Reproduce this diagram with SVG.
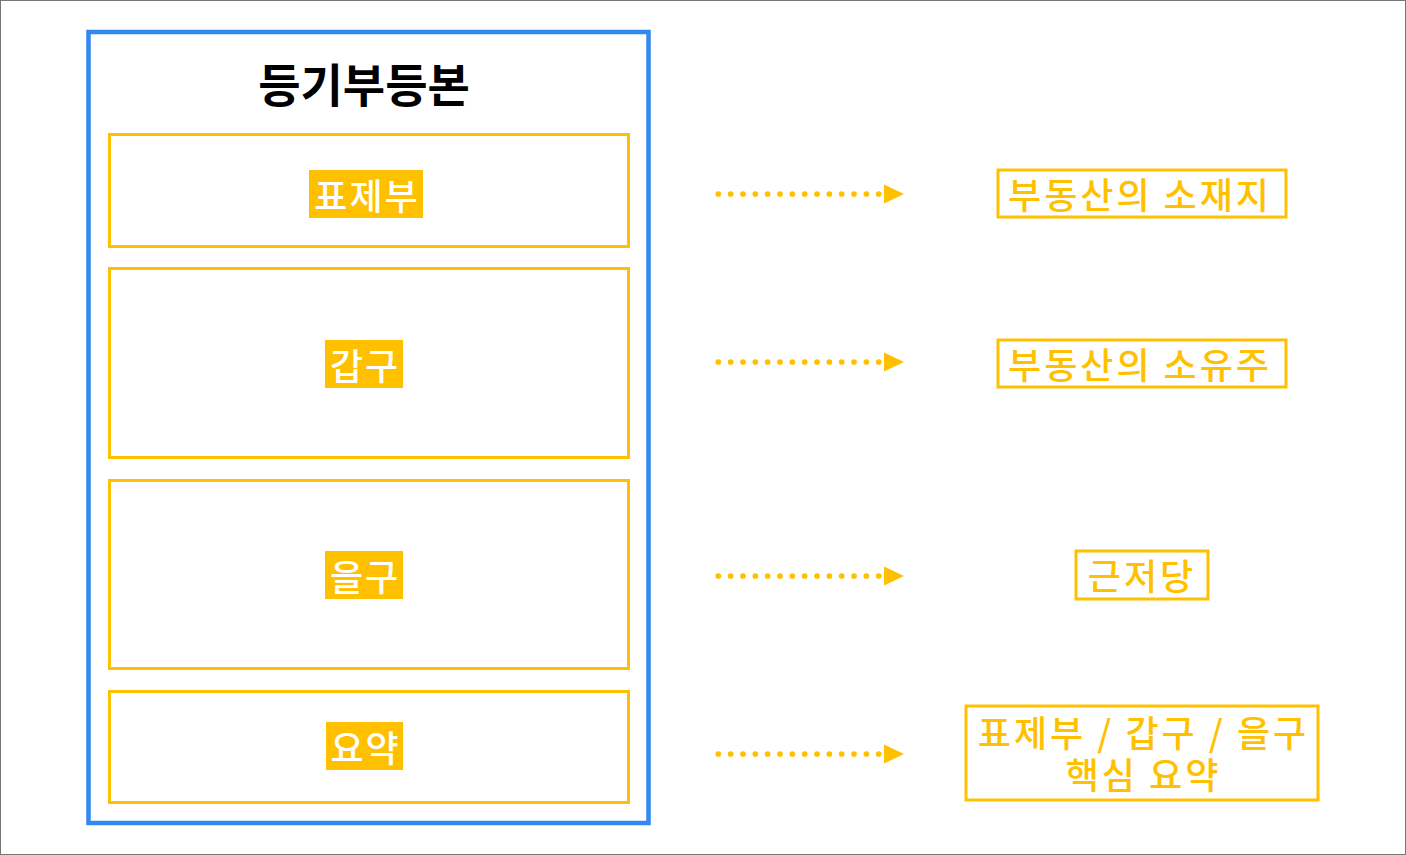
<svg xmlns="http://www.w3.org/2000/svg" width="1406" height="855" viewBox="0 0 1406 855">
<defs>
<style>
.ybox{fill:none;stroke:#FFC000;stroke-width:3}
.lbl{font-family:"Noto Sans CJK KR","Noto Sans",sans-serif;font-size:36px;font-weight:500;letter-spacing:2px;fill:#FFFFFF;text-anchor:middle;dominant-baseline:central}
.lblbg{fill:#FFC000}
.rt{font-family:"Noto Sans CJK KR","Noto Sans",sans-serif;font-size:36px;font-weight:500;letter-spacing:3px;fill:#FFC000;text-anchor:middle;dominant-baseline:central}
.dot{fill:none;stroke:#FFC000;stroke-width:5.7;stroke-linecap:round;stroke-dasharray:0 12.34}
</style>
<marker id="arr" markerUnits="userSpaceOnUse" markerWidth="20" markerHeight="20" viewBox="0 0 18.7 17.7" refX="0" refY="8.85" orient="auto">
<path d="M0,0 L18.7,8.85 L0,17.7 Z" fill="#FFC000"/>
</marker>
</defs>
<rect x="0" y="0" width="1406" height="855" fill="#FFFFFF"/>
<rect x="0.5" y="0.5" width="1405" height="854" fill="none" stroke="#777777" stroke-width="1"/>

<g id="main">
<rect x="88.5" y="32" width="560" height="791" fill="none" stroke="#3388F0" stroke-width="4.5"/>
<text x="364" y="82" font-family="Noto Sans CJK KR, sans-serif" font-size="46" font-weight="bold" fill="#000000" text-anchor="middle" dominant-baseline="central">등기부등본</text>
</g>

<g id="pyojebu">
<rect class="ybox" x="109.5" y="134.5" width="519" height="112"/>
<rect class="lblbg" x="309" y="170" width="114" height="48"/>
<text class="lbl" x="367" y="194">표제부</text>
</g>
<g id="gapgu">
<rect class="ybox" x="109.5" y="268.5" width="519" height="189"/>
<rect class="lblbg" x="325" y="340" width="78" height="48"/>
<text class="lbl" x="365" y="364">갑구</text>
</g>
<g id="eulgu">
<rect class="ybox" x="109.5" y="480.5" width="519" height="188"/>
<rect class="lblbg" x="325" y="551" width="78" height="48"/>
<text class="lbl" x="365" y="575">을구</text>
</g>
<g id="yoyak">
<rect class="ybox" x="109.5" y="691.5" width="519" height="111"/>
<rect class="lblbg" x="326" y="722" width="77" height="48"/>
<text class="lbl" x="365.5" y="746">요약</text>
</g>

<g id="connectors">
<path class="dot" d="M718.3,194 L884,194" marker-end="url(#arr)"/>
<path class="dot" d="M718.3,362 L884,362" marker-end="url(#arr)"/>
<path class="dot" d="M718.3,576 L884,576" marker-end="url(#arr)"/>
<path class="dot" d="M718.3,754 L884,754" marker-end="url(#arr)"/>
</g>

<g id="r1">
<rect class="ybox" x="998" y="170" width="288" height="47"/>
<text class="rt" x="1140" y="193">부동산의 소재지</text>
</g>
<g id="r2">
<rect class="ybox" x="998" y="340" width="288" height="47"/>
<text class="rt" x="1140" y="363">부동산의 소유주</text>
</g>
<g id="r3">
<rect class="ybox" x="1076" y="551" width="132" height="48"/>
<text class="rt" x="1142" y="574">근저당</text>
</g>
<g id="r4">
<rect class="ybox" x="966" y="706" width="352" height="94"/>
<text class="rt" x="1143.5" y="731">표제부 / 갑구 / 을구</text>
<text class="rt" x="1143.5" y="773">핵심 요약</text>
</g>
</svg>
